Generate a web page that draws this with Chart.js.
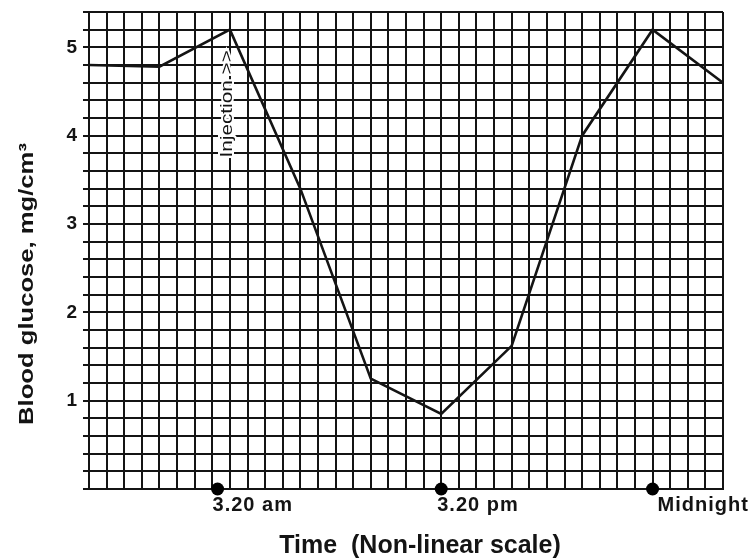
<!DOCTYPE html>
<html><head><meta charset="utf-8">
<script src="https://cdn.jsdelivr.net/npm/chart.js@4.4.1/dist/chart.umd.min.js"></script>
<style>html,body{margin:0;padding:0;background:#fff;overflow:hidden}#wrap{width:751px;height:559px}canvas{display:block}</style>
</head><body><div id="wrap"><canvas id="c" width="751" height="559" style="width:751px;height:559px"></canvas></div>
<script>
// ---- data ----
const timeSteps = [0, 4, 8, 12, 16, 20, 24, 28, 32, 36];
const glucose = [4.8, 4.78, 5.2, 3.4, 1.25, 0.85, 1.62, 4.0, 5.2, 4.6];
const markerSteps = [7.3, 20, 32];
const markerLabels = ['3.20 am', '3.20 pm', 'Midnight'];
const yTickLabels = [1, 2, 3, 4, 5];
const annotationText = 'Injection >>';
const yTitleText = 'Blood glucose, mg/cm³';
const xTitleText = 'Time  (Non-linear scale)';

const INK = '#141414';
const FONT = '"Liberation Sans", Arial, sans-serif';
const linePoints = timeSteps.map((t, i) => ({x: t, y: glucose[i]}));
const markerPoints = markerSteps.map(t => ({x: t, y: 0}));

function stretchedText(ctx, text, x, y, angle, stretch) {
  ctx.save();
  ctx.translate(x, y);
  ctx.rotate(angle);
  ctx.scale(stretch, 1);
  ctx.fillText(text, 0, 0);
  ctx.restore();
}

const labelPlugin = {
  id: 'labels',
  afterDatasetsDraw(chart) {
    const {ctx, chartArea, scales: {x, y}} = chart;
    ctx.save();
    ctx.fillStyle = INK;
    // time labels under the markers
    const labelShift = [-5, -4, 5];
    ctx.font = 'bold 20px ' + FONT;
    try { ctx.letterSpacing = '1px'; } catch (e) {}
    ctx.textAlign = 'left';
    ctx.textBaseline = 'alphabetic';
    markerSteps.forEach((t, i) => {
      const px = x.getPixelForValue(t);
      ctx.fillText(markerLabels[i], px + labelShift[i], 511);
    });
    try { ctx.letterSpacing = '0px'; } catch (e) {}

    // injection annotation (rotated)
    const ax = x.getPixelForValue(7.84);
    const ay = y.getPixelForValue(4.36);
    ctx.save();
    ctx.translate(ax, ay);
    ctx.rotate(-Math.PI / 2);
    ctx.scale(1.22, 1);
    ctx.font = '17px ' + FONT;
    ctx.textAlign = 'center';
    ctx.textBaseline = 'middle';
    ctx.lineWidth = 4;
    ctx.strokeStyle = '#ffffff';
    ctx.strokeText(annotationText, 0, 0);
    ctx.fillStyle = INK;
    ctx.fillText(annotationText, 0, 0);
    ctx.restore();

    // axis titles
    ctx.fillStyle = INK;
    ctx.textAlign = 'center';
    ctx.textBaseline = 'alphabetic';
    ctx.font = 'bold 25px ' + FONT;
    ctx.fillText(xTitleText, (chartArea.left + chartArea.right) / 2 + 14, 553);
    ctx.font = 'bold 21px ' + FONT;
    stretchedText(ctx, yTitleText, 33, 284, -Math.PI / 2, 1.22);
    ctx.restore();
  }
};

const bgPlugin = {
  id: 'bg',
  beforeDraw(chart) {
    const {ctx} = chart;
    ctx.save();
    ctx.fillStyle = '#ffffff';
    ctx.fillRect(0, 0, chart.width, chart.height);
    ctx.restore();
  }
};

new Chart(document.getElementById('c'), {
  type: 'scatter',
  data: {
    datasets: [
      {
        data: linePoints,
        showLine: true,
        borderColor: INK,
        borderWidth: 2.6,
        pointRadius: 0,
        tension: 0,
        clip: false
      },
      {
        data: markerPoints,
        showLine: false,
        pointRadius: 6.5,
        pointBackgroundColor: '#000',
        pointBorderWidth: 0,
        clip: false
      }
    ]
  },
  options: {
    responsive: false,
    animation: false,
    devicePixelRatio: 1,
    layout: {padding: {top: 12, right: 28, left: 0, bottom: 0}},
    plugins: {legend: {display: false}, tooltip: {enabled: false}},
    scales: {
      x: {
        type: 'linear', min: 0, max: 36,
        ticks: {display: false, stepSize: 1, autoSkip: false},
        grid: {color: INK, lineWidth: 2, drawTicks: false},
        border: {color: INK, width: 2},
        afterFit(s) { s.height = 70; s.paddingLeft = 0; s.paddingRight = 0; }
      },
      y: {
        type: 'linear', min: 0, max: 5.4,
        ticks: {
          stepSize: 0.2, autoSkip: false, color: INK, padding: 6,
          font: {family: FONT, size: 19, weight: 'bold'},
          callback(v) {
            const r = Math.round(v);
            return (Math.abs(v - r) < 1e-6 && yTickLabels.includes(r)) ? String(r) : '';
          }
        },
        grid: {color: INK, lineWidth: 2, tickLength: 6, tickColor: INK},
        border: {color: INK, width: 2},
        afterFit(s) { s.width = 89; s.paddingTop = 0; s.paddingBottom = 0; }
      }
    }
  },
  plugins: [bgPlugin, labelPlugin]
});
</script>
</body></html>
